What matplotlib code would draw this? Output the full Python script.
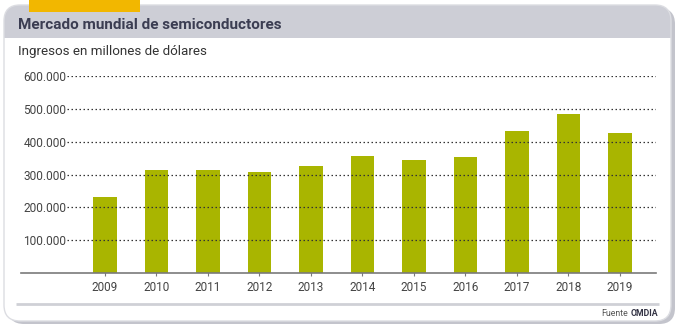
import matplotlib
matplotlib.use("Agg")
import matplotlib.pyplot as plt
from matplotlib.patches import FancyBboxPatch, Rectangle

plt.rcParams['font.family'] = ['Roboto', 'DejaVu Sans']

years = ['2009', '2010', '2011', '2012', '2013', '2014', '2015', '2016', '2017', '2018', '2019']
ingresos = [233000, 313000, 313000, 307000, 326000, 355000, 345000, 354000, 433000, 483000, 425000]
yticks = [100000, 200000, 300000, 400000, 500000, 600000]
ylabels = ['100.000', '200.000', '300.000', '400.000', '500.000', '600.000']

W, H = 680, 330
fig = plt.figure(figsize=(W / 100, H / 100), dpi=100)

# background layer in pixel coordinates (y grows downward)
bg = fig.add_axes([0, 0, 1, 1], zorder=0)
bg.set_xlim(0, W)
bg.set_ylim(H, 0)
bg.axis('off')

def rbox(x0, y0, x1, y1, r, **kw):
    return FancyBboxPatch((x0, y0), x1 - x0, y1 - y0,
                          boxstyle='round,pad=0,rounding_size=%g' % r, **kw)

# shadow, card, header band
bg.add_patch(rbox(8, 8, 675, 324, 16, facecolor='#c3c4cc', edgecolor='none'))
bg.add_patch(rbox(4, 5, 671, 321, 16, facecolor='white', edgecolor='none'))
bg.add_patch(rbox(4, 5, 671, 52, 16, facecolor='#cdced6', edgecolor='none'))
bg.add_patch(Rectangle((4, 38), 667, 16, facecolor='white', edgecolor='none'))
bg.add_patch(rbox(4, 5, 671, 321, 16, facecolor='none', edgecolor='#dcdde2', linewidth=1))
bg.add_patch(Rectangle((29, 0), 111, 12, facecolor='#f2b700', edgecolor='none'))

# footer rule and source
bg.plot([16, 659], [303.5, 303.5], color='#cfd0d6', linewidth=2, solid_capstyle='butt')
bg.text(628, 313, 'Fuente', fontsize=6.3, color='#555555', ha='right', va='center')
bg.text(658, 313, 'OMDIA', fontsize=6.3, color='#333344', fontweight='bold', ha='right', va='center')

bg.text(18, 25, 'Mercado mundial de semiconductores', fontsize=11, fontweight='bold',
        color='#3b3d52', ha='left', va='center')
bg.text(18, 51, 'Ingresos en millones de dólares', fontsize=9.6, color='#333333',
        ha='left', va='center')

# chart area
left, right, top, bottom = 20.7, 656, 75.7, 273.3
ax = fig.add_axes([left / W, 1 - bottom / H, (right - left) / W, (bottom - top) / H], zorder=1)
ax.patch.set_alpha(0)

step = 51.5
x0 = (105 - left) / step
xs = list(range(len(years)))
ax.set_xlim(-x0, -x0 + (right - left) / step)
ax.set_ylim(0, 600000)

ax.bar(xs, ingresos, width=0.45, color='#a9b500', zorder=2)

grid_start = (66.7 - left) / (right - left)
for v in yticks:
    ax.axhline(v, xmin=grid_start, xmax=1, color='#333333', linewidth=0.9,
               linestyle=(0, (1.2, 2)), zorder=3)

for s in ['top', 'right', 'left']:
    ax.spines[s].set_visible(False)
ax.spines['bottom'].set_color('#7a7a7a')
ax.spines['bottom'].set_linewidth(1.2)

ax.set_xticks(xs)
ax.set_xticklabels(years)
ax.tick_params(axis='x', direction='inout', length=5, width=0.8, color='#7a7a7a',
               labelsize=8.5, labelcolor='#444444', pad=3)

ax.set_yticks(yticks)
ax.set_yticklabels(ylabels)
ax.tick_params(axis='y', length=0, labelsize=8.6, labelcolor='#444444', pad=-2)
for lab in ax.get_yticklabels():
    lab.set_horizontalalignment('left')

fig.savefig('out.png', dpi=100)
